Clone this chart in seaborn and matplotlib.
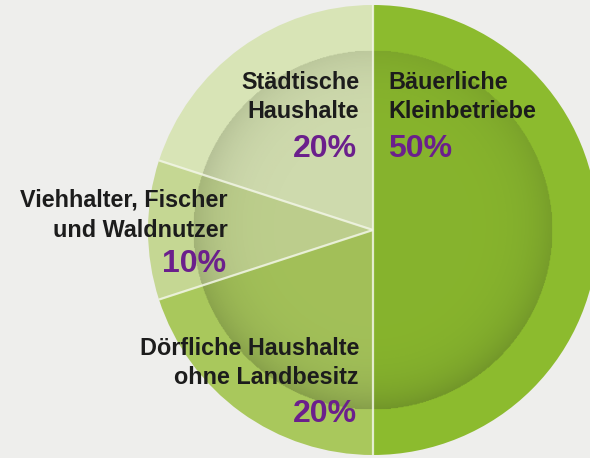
import numpy as np
import matplotlib
matplotlib.use("Agg")
import matplotlib.pyplot as plt
import seaborn as sns
from matplotlib.patches import Circle

# Anteile der Haushalte
groups = ["Bäuerliche\nKleinbetriebe",
          "Dörfliche Haushalte\nohne Landbesitz",
          "Viehhalter, Fischer\nund Waldnutzer",
          "Städtische\nHaushalte"]
shares = [50, 20, 10, 20]
colors = ["#8cbb2e", "#a9c85c", "#c5d793", "#d8e4b6"]

sns.set_theme(style="white")
plt.rcParams['font.family'] = ['Liberation Sans', 'DejaVu Sans']

bg = "#eeeeec"
fig = plt.figure(figsize=(5.9, 4.58), dpi=100, facecolor=bg)
ax = fig.add_axes([0, 0, 1, 1])
ax.set_facecolor(bg)

R = 1.0
wedges, _ = ax.pie(shares, colors=colors, startangle=90, counterclock=False,
                   radius=R, center=(0, 0), wedgeprops=dict(linewidth=0))

# innere Schattenscheibe
r_in = 0.8
n = 400
xs = np.linspace(-r_in, r_in, n)
X, Y = np.meshgrid(xs, xs[::-1])
rr = np.sqrt(X**2 + Y**2) / r_in
alpha = 0.06 + 0.24 * np.clip(rr, 0, 1) ** 7 * (0.45 + 0.55 * (1 - Y / r_in) / 2)
img = np.zeros((n, n, 4))
img[..., 0] = 0.20
img[..., 1] = 0.24
img[..., 2] = 0.12
img[..., 3] = np.where(rr <= 1, alpha, 0)
im = ax.imshow(img, extent=[-r_in, r_in, -r_in, r_in], zorder=3, interpolation="bilinear")
clip = Circle((0, 0), r_in, transform=ax.transData)
im.set_clip_path(clip)

# Trennlinien
for w in wedges:
    t = np.deg2rad(w.theta1)
    ax.plot([0, R * np.cos(t)], [0, R * np.sin(t)], color="#f2f6e6",
            alpha=0.85, lw=1.6, zorder=4, solid_capstyle="butt")

px = 225.0
cx, cy = 373, 230
ax.set_xlim(-cx / px, (590 - cx) / px)
ax.set_ylim(-(458 - cy) / px, cy / px)
ax.set_aspect("equal")
ax.axis("off")

# Beschriftungen (Pixelpositionen)
label_pos = [
    (388, [89, 118], 157, "left"),
    (359, [355, 384], 422, "right"),
    (228, [207, 237], 272, "right"),
    (359, [89, 118], 157, "right"),
]
for name, share, (x, ys, yp, ha) in zip(groups, shares, label_pos):
    for line, y in zip(name.split("\n"), ys):
        fig.text(x / 590, 1 - y / 458, line, ha=ha, va="baseline",
                 fontsize=16.8, fontweight="bold", color="#1c1c1c", zorder=5)
    fig.text((x - 2 if ha == "right" else x) / 590, 1 - yp / 458, f"{share}%",
             ha=ha, va="baseline", fontsize=23, fontweight="bold",
             color="#6b1f8c", zorder=5)

fig.savefig("out.png", dpi=100, facecolor=bg)
